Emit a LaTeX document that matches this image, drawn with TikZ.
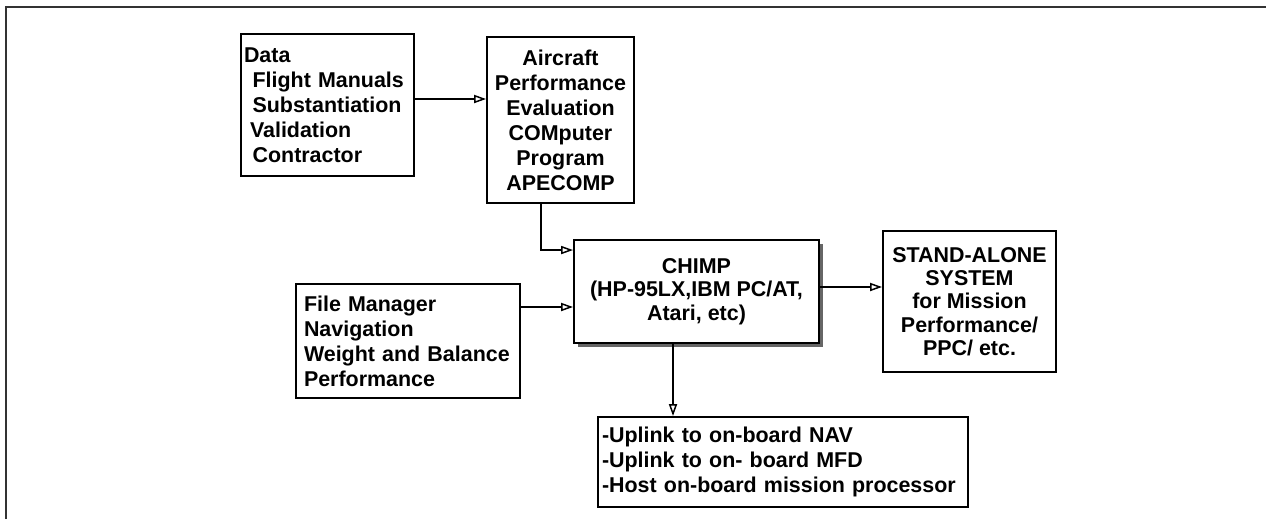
\documentclass[tikz,border=0pt]{standalone}
\usepackage{fontspec}
\setmainfont{Liberation Sans}
\usetikzlibrary{arrows.meta,shadows}

\tikzset{
  blk/.style={draw, line width=1.1pt, fill=white, inner sep=0pt,
    font=\bfseries\fontsize{12.2}{14.2}\selectfont},
  lft/.style={blk, align=left},
  ctr/.style={blk, align=center},
  tight/.style={font=\bfseries\fontsize{12.2}{13.3}\selectfont},
  link/.style={line width=0.85pt, -{Triangle[open,length=6.8pt,width=4.6pt]}},
  frame/.style={black!80, line width=0.9pt}
}

\begin{document}
\begin{tikzpicture}
		\useasboundingbox (0,0) rectangle (25.32,10.38);
		\draw[frame] (0.12,0) -- (0.12,10.24) -- (25.32,10.24);

		\node[lft, text width=3.34cm, inner xsep=0.06cm, minimum height=2.84cm] (data) at (6.55,8.28)
			{Data\\\hspace*{.4em}Flight Manuals\\\hspace*{.4em}Substantiation\\\hspace*{.28em}Validation\\\hspace*{.4em}Contractor};
		\node[ctr, minimum width=2.94cm, minimum height=3.32cm] (ape) at (11.21,7.98)
			{Aircraft\\Performance\\Evaluation\\COMputer\\Program\\APECOMP};
		\node[ctr, tight, minimum width=4.9cm, minimum height=2.06cm,
			drop shadow={shadow xshift=0.07cm, shadow yshift=-0.07cm, fill=black!60, opacity=1}] (chimp) at (13.93,4.55)
			{CHIMP\\(HP-95LX,IBM PC/AT,\\Atari, etc)};
		\node[ctr, tight, minimum width=3.46cm, minimum height=2.82cm] (sa) at (19.39,4.35)
			{STAND-ALONE\\SYSTEM\\for Mission\\Performance/\\PPC/ etc.};
		\node[lft, text width=4.16cm, inner xsep=0.16cm, minimum height=2.28cm] (fm) at (8.16,3.56)
			{File Manager\\Navigation\\Weight and Balance\\Performance};
		\node[lft, text width=7.24cm, inner xsep=0.08cm, minimum height=1.8cm] (low) at (15.66,1.14)
			{-Uplink to on-board NAV\\-Uplink to on- board MFD\\-Host on-board mission processor};

		\coordinate (d1) at ([yshift=0.12cm]data.east);
		\coordinate (a1) at ([xshift=-0.39cm]ape.south);
		\coordinate (c1) at ([yshift=-0.22cm]chimp.north west);
		\coordinate (f1) at ([yshift=0.68cm]fm.east);
		\coordinate (c2) at ([yshift=0.09cm]chimp.east);
		\coordinate (c3) at ([xshift=-0.47cm]chimp.south);

		\draw[link] (d1) -- (d1 -| ape.west);
		\draw[link] (a1) |- (c1);
		\draw[link] (f1) -- (f1 -| chimp.west);
		\draw[link] (c2) -- (c2 -| sa.west);
		\draw[link] (c3) -- (c3 |- low.north);
	    \end{tikzpicture}
\end{document}
